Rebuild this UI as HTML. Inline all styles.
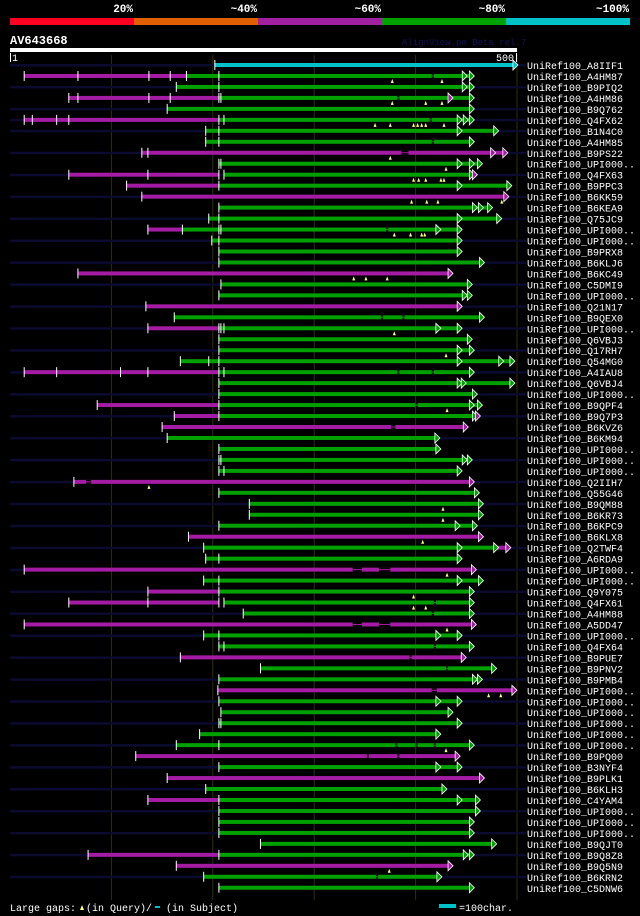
<!DOCTYPE html>
<html><head><meta charset="utf-8">
<style>
html,body{margin:0;padding:0;background:#000;}
svg{display:block;}
text{font-family:"Liberation Mono","DejaVu Sans Mono",monospace;fill:#fff;}
</style></head>
<body>
<svg id="chart" width="640" height="916" viewBox="0 0 640 916" xmlns="http://www.w3.org/2000/svg">
  <rect x="0" y="0" width="640" height="916" fill="#000"/>
  <g>
    <rect x="10" y="18" width="124" height="7" fill="#ff0022"/>
    <rect x="134" y="18" width="124" height="7" fill="#e06000"/>
    <rect x="258" y="18" width="124" height="7" fill="#a020a0"/>
    <rect x="382" y="18" width="124" height="7" fill="#00a000"/>
    <rect x="506" y="18" width="124" height="7" fill="#00c0c8"/>
    <text x="133" y="12" font-size="11" font-weight="bold" text-anchor="end">20%</text>
    <text x="257" y="12" font-size="11" font-weight="bold" text-anchor="end">~40%</text>
    <text x="381" y="12" font-size="11" font-weight="bold" text-anchor="end">~60%</text>
    <text x="505" y="12" font-size="11" font-weight="bold" text-anchor="end">~80%</text>
    <text x="629" y="12" font-size="11" font-weight="bold" text-anchor="end">~100%</text>
  </g>
  <text x="10" y="44" font-size="12" font-weight="bold">AV643668</text>
  <text x="402" y="45" font-size="9" style="fill:#14145a">AlignView.pm Beta rel.7</text>
  <g id="grid"></g>
  <g>
    <rect x="10" y="48" width="507" height="4" fill="#fff"/>
    <rect x="10" y="53" width="1" height="9" fill="#fff"/>
    <rect x="516" y="53" width="1" height="9" fill="#fff"/>
    <text x="12" y="61" font-size="10">1</text>
    <text x="514" y="61" font-size="10" text-anchor="end">500</text>
  </g>
  <g id="rows"></g>
  <g>
    <text x="10" y="911" font-size="10">Large gaps:</text>
    <polygon points="80,910 82,905 84,910" fill="#ffff80"/>
    <text x="86" y="911" font-size="10">(in Query)/</text>
    <rect x="155" y="906" width="5" height="2" fill="#00c0c8"/>
    <text x="166" y="911" font-size="10">(in Subject)</text>
    <rect x="439" y="904" width="17" height="4" fill="#00c0c8"/>
    <text x="459" y="911" font-size="10">=100char.</text>
  </g>
</svg>
<script>
// ---- data (query residue coordinates, 1..500) ----
const names = ["A8IIF1","A4HM87","B9PIQ2","A4HM86","B9Q762","Q4FX62","B1N4C0","A4HM85","B9PS22","UPI000..","Q4FX63","B9PPC3","B6KK59","B6KEA9","Q75JC9","UPI000..","UPI000..","B9PRX8","B6KLJ6","B6KC49","C5DMI9","UPI000..","Q21N17","B9QEX0","UPI000..","Q6VBJ3","Q17RH7","Q54MG0","A4IAU8","Q6VBJ4","UPI000..","B9QPF4","B9Q7P3","B6KVZ6","B6KM94","UPI000..","UPI000..","UPI000..","Q2IIH7","Q55G46","B9QM88","B6KR73","B6KPC9","B6KLX8","Q2TWF4","A6RDA9","UPI000..","UPI000..","Q9Y075","Q4FX61","A4HM88","A5DD47","UPI000..","Q4FX64","B9PUE7","B9PNV2","B9PMB4","UPI000..","UPI000..","UPI000..","UPI000..","UPI000..","UPI000..","B9PQ00","B3NYF4","B9PLK1","B6KLH3","C4YAM4","UPI000..","UPI000..","UPI000..","B9QJT0","B9Q8Z8","B9Q5N9","B6KRN2","C5DNW6"];
const hasBg = [1,0,1,0,1,1,1,0,1,0,1,0,1,0,1,0,1,0,1,0,1,0,1,0,1,0,1,0,1,0,1,0,1,0,1,0,1,0,1,0,1,0,1,0,1,0,1,0,1,0,1,0,1,0,1,0,1,0,1,0,1,0,1,0,1,0,1,0,1,0,1,0,1,0,1,0];
const segments = [
 [[202,496,"C"]],[[14,174,"P"],[174,453,"G"]],[[164,453,"G"]],[[58,206,"P"],[206,453,"G"]],[[155,453,"G"]],
 [[14,206,"P"],[206,453,"G"]],[[193,477,"G"]],[[193,453,"G"]],[[130,486,"P"]],[[206,461,"G"]],
 [[58,206,"P"],[211,453,"G"]],[[115,206,"P"],[206,490,"G"]],[[130,487,"P"]],[[206,471,"G"]],[[196,480,"G"]],
 [[136,170,"P"],[170,441,"G"]],[[199,441,"G"]],[[206,441,"G"]],[[206,463,"G"]],[[67,432,"P"]],
 [[208,451,"G"]],[[206,451,"G"]],[[134,441,"P"]],[[162,463,"G"]],[[136,206,"P"],[206,441,"G"]],
 [[206,451,"G"]],[[206,453,"G"]],[[168,493,"G"]],[[14,206,"P"],[206,453,"G"]],[[206,493,"G"]],
 [[206,456,"G"]],[[86,206,"P"],[206,461,"G"]],[[162,206,"P"],[206,456,"G"]],[[150,447,"P"]],[[155,419,"G"]],
 [[206,420,"G"]],[[206,451,"G"]],[[206,441,"G"]],[[63,453,"P"]],[[206,458,"G"]],
 [[236,462,"G"]],[[236,462,"G"]],[[206,456,"G"]],[[176,462,"P"]],[[191,477,"G"],[477,489,"P"]],
 [[193,441,"G"]],[[14,455,"P"]],[[191,462,"G"]],[[136,206,"P"],[206,453,"G"]],[[58,206,"P"],[211,453,"G"]],
 [[230,453,"G"]],[[14,455,"P"]],[[191,441,"G"]],[[206,453,"G"]],[[168,445,"P"]],
 [[247,475,"G"]],[[206,461,"G"]],[[205,495,"P"]],[[206,441,"G"]],[[208,432,"G"]],
 [[206,441,"G"]],[[187,420,"G"]],[[164,453,"G"]],[[124,439,"P"]],[[206,441,"G"]],
 [[155,463,"P"]],[[193,426,"G"]],[[136,206,"P"],[206,459,"G"]],[[206,459,"G"]],[[206,453,"G"]],
 [[206,453,"G"]],[[247,475,"G"]],[[77,206,"P"],[206,453,"G"]],[[164,432,"P"]],[[191,421,"G"]],
 [[206,453,"G"]]
];
const ticks = [
 [202],[14,67,137,158,174,206],[164,206],[58,67,137,158,206,208],[155],
 [14,22,46,58,206,211],[193,206],[193,206],[130,136],[206,208],
 [58,136,206,211],[115,206],[130],[206],[196,206],
 [136,170,206,208],[199,206],[206],[206],[67],
 [208],[206],[134],[162],[136,206,208,211],
 [206],[206],[168,196,206],[14,46,109,136,206,211],[206],
 [206],[86,206],[162,206],[150],[155],
 [206],[206,208],[206,211],[63],[206],
 [236],[236],[206],[176],[191],
 [193,206],[14],[191,206],[136,206],[58,136,206,211],
 [230],[14],[191,206],[206,211],[168],
 [247],[206],[205],[206],[208],
 [206,208],[187],[164,206],[124],[206],
 [155],[193],[136,206],[206],[206],
 [206],[247],[77,206],[164],[191],
 [206]
];
const arrows = [
 [[496,"C"]],[[446,"G"],[453,"G"]],[[446,"G"],[453,"G"]],[[432,"P"],[453,"G"]],[[453,"G"]],
 [[441,"G"],[447,"G"],[453,"G"]],[[441,"G"],[477,"G"]],[[453,"G"]],[[474,"P"],[486,"P"]],[[441,"G"],[453,"G"],[461,"G"]],
 [[453,"G"],[456,"P"]],[[441,"G"],[490,"G"]],[[487,"P"]],[[456,"G"],[462,"G"],[471,"G"]],[[441,"G"],[480,"G"]],
 [[420,"G"],[441,"G"]],[[441,"G"]],[[441,"G"]],[[463,"G"]],[[432,"P"]],
 [[451,"G"]],[[446,"G"],[451,"G"]],[[441,"P"]],[[463,"G"]],[[420,"G"],[441,"G"]],
 [[451,"G"]],[[441,"G"],[453,"G"]],[[441,"G"],[482,"G"],[493,"G"]],[[453,"G"]],[[441,"G"],[445,"G"],[493,"G"]],
 [[456,"G"]],[[453,"G"],[461,"G"]],[[456,"G"],[459,"P"]],[[447,"P"]],[[419,"G"]],
 [[420,"G"]],[[446,"G"],[451,"G"]],[[441,"G"]],[[453,"P"]],[[458,"G"]],
 [[462,"G"]],[[462,"G"]],[[439,"G"],[456,"G"]],[[462,"P"]],[[441,"G"],[477,"G"],[489,"P"]],
 [[441,"G"]],[[455,"P"]],[[441,"G"],[462,"G"]],[[453,"G"]],[[453,"G"]],
 [[453,"G"]],[[455,"P"]],[[420,"G"],[441,"G"]],[[453,"G"]],[[445,"P"]],
 [[475,"G"]],[[456,"G"],[461,"G"]],[[495,"P"]],[[420,"G"],[441,"G"]],[[432,"G"]],
 [[441,"G"]],[[420,"G"]],[[453,"G"]],[[439,"P"]],[[420,"G"],[441,"G"]],
 [[463,"P"]],[[426,"G"]],[[441,"G"],[459,"G"]],[[459,"G"]],[[453,"G"]],
 [[453,"G"]],[[475,"G"]],[[447,"G"],[453,"G"]],[[432,"P"]],[[421,"G"]],
 [[453,"G"]]
];
const gaps = [
 [],[377,426],[],[377,410,426],[],
 [360,375,398,402,406,410,428],[],[],[375],[430],
 [398,403,410,425,428],[],[396,411,422,485],[],[],
 [379,395,406,409],[],[],[],[339,351,372],
 [],[],[],[],[379],
 [],[430],[],[],[],
 [],[431],[],[],[],
 [],[],[],[137],[],
 [427],[427],[],[407],[],
 [],[431],[],[398],[398,410],
 [],[431],[],[],[],
 [],[],[472,484],[],[],
 [],[],[430],[],[],
 [],[],[],[],[],
 [],[],[],[374],[],
 []
];
const breaks = [
 [],[[416,418]],[],[[382,384]],[],
 [[414,416]],[],[[416,418]],[[386,393]],[],
 [],[],[],[],[],
 [[371,373]],[],[],[],[],
 [],[],[],[[366,367],[387,388]],[],
 [],[],[],[[382,384],[416,418]],[],
 [],[[400,402]],[],[[376,380]],[],
 [],[],[],[[75,80]],[],
 [],[],[],[],[],
 [],[[338,347],[364,375]],[],[],[[418,420]],
 [[416,418]],[[338,347],[364,375]],[],[[418,419]],[[394,396]],
 [[430,432]],[],[[416,421]],[],[],
 [],[],[[380,381],[400,401],[418,420]],[[352,353],[382,384]],[],
 [],[],[],[],[],
 [],[],[],[],[[361,362]],
 []
];
const gridTicks = [100,200,300,400,500];

// ---- scales ----
const X0 = 10, PXPER = 507/500;
function xs(c){ return X0 + c*PXPER; }
function ys(i){ return 65 + i*10.97; }
const COLORS = {P:"#a41ca4", G:"#00a000", C:"#00c0c8"};
const NS = "http://www.w3.org/2000/svg";
function mk(tag, attrs, parent){
  const e = document.createElementNS(NS, tag);
  for (const k in attrs) e.setAttribute(k, attrs[k]);
  parent.appendChild(e);
  return e;
}

const grid = document.getElementById("grid");
gridTicks.forEach(function(t){
  const l = mk("rect", {x: xs(t)-0.5, y: 55, width: 1, height: 845, fill: "#2e2e06"}, grid);
  
  
});

const rowsG = document.getElementById("rows");
names.forEach(function(nm, i){
  const y = ys(i);
  const g = mk("g", {}, rowsG);
  
  
  if (hasBg[i]) {
    const bg = mk("rect", {x: 10, y: y-1, width: 516, height: 2.5, fill: "#0b0b30"}, g);
    
    
  }
  segments[i].forEach(function(s){
    const r = mk("rect", {x: xs(s[0]), y: y-2, width: xs(s[1])-xs(s[0]), height: 4, fill: COLORS[s[2]]}, g);
    
    
  });
  breaks[i].forEach(function(b){
    const br = mk("rect", {x: xs(b[0]), y: y-2, width: Math.max(2, xs(b[1])-xs(b[0])), height: 4, fill: "#000"}, g);
    
    
    let col = COLORS.G;
    segments[i].forEach(function(s){ if (b[0] >= s[0] && b[0] <= s[1]) col = COLORS[s[2]]; });
    const cn = mk("rect", {x: xs(b[0]), y: y-0.5, width: Math.max(2, xs(b[1])-xs(b[0])), height: 1, fill: col}, g);
    
    
  });
  ticks[i].forEach(function(t){
    const tk = mk("rect", {x: xs(t)-0.5, y: y-5, width: 1, height: 10, fill: "#fff"}, g);
    
    
  });
  arrows[i].forEach(function(a){
    const ax = xs(a[0]);
    const p = mk("polygon", {points: ax+","+(y-5)+" "+(ax+5)+","+y+" "+ax+","+(y+5), fill: COLORS[a[1]], stroke: "#fff", "stroke-width": 0.8}, g);
    
    
  });
  gaps[i].forEach(function(q){
    const qx = xs(q);
    const gp = mk("polygon", {points: (qx-1.5)+","+(y+7)+" "+qx+","+(y+3)+" "+(qx+1.5)+","+(y+7), fill: "#ffff80"}, g);
    
    
  });
  const tx = mk("text", {x: 527, y: y+4, "font-size": 10}, g);
  tx.textContent = "UniRef100_" + nm;
  
  
});
</script>
</body></html>
